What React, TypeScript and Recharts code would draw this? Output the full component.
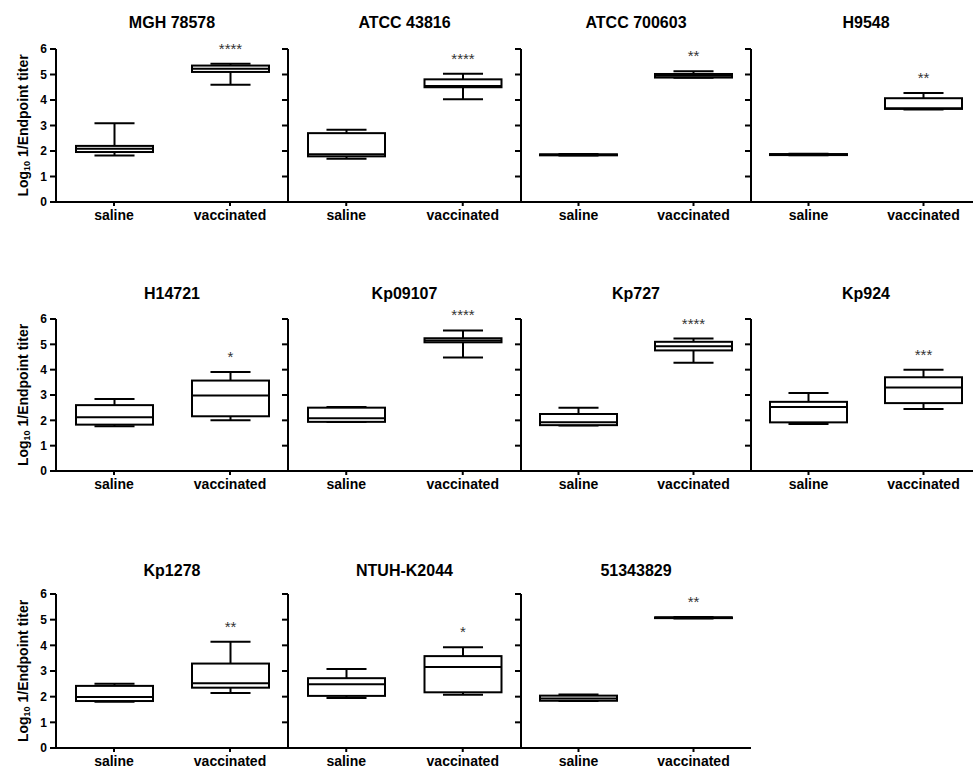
import { ComposedChart, Bar, XAxis, YAxis, LabelList } from 'recharts'

// box stats per strain: [min, q1, median, q3, max]
const strains = [
  'MGH 78578', 'ATCC 43816', 'ATCC 700603', 'H9548',
  'H14721', 'Kp09107', 'Kp727', 'Kp924',
  'Kp1278', 'NTUH-K2044', '51343829',
]
const groups = ['saline', 'vaccinated']

const salineStats = [
  [1.82, 1.96, 2.09, 2.2, 3.09],
  [1.7, 1.79, 1.87, 2.7, 2.83],
  [1.82, 1.83, 1.85, 1.87, 1.88],
  [1.83, 1.84, 1.86, 1.88, 1.89],
  [1.77, 1.83, 2.12, 2.6, 2.84],
  [1.93, 1.94, 2.08, 2.5, 2.53],
  [1.8, 1.81, 1.92, 2.25, 2.5],
  [1.86, 1.92, 2.53, 2.73, 3.08],
  [1.8, 1.83, 1.99, 2.42, 2.5],
  [1.95, 2.03, 2.48, 2.72, 3.08],
  [1.83, 1.84, 1.93, 2.04, 2.08],
]

const vaccinatedStats = [
  [4.6, 5.1, 5.23, 5.35, 5.42],
  [4.03, 4.5, 4.55, 4.81, 5.03],
  [4.87, 4.88, 4.95, 5.02, 5.13],
  [3.63, 3.65, 3.68, 4.07, 4.27],
  [2.0, 2.16, 2.98, 3.57, 3.91],
  [4.48, 5.08, 5.15, 5.24, 5.55],
  [4.27, 4.76, 4.92, 5.1, 5.23],
  [2.45, 2.68, 3.3, 3.7, 4.0],
  [2.14, 2.35, 2.52, 3.29, 4.14],
  [2.07, 2.17, 3.16, 3.58, 3.93],
  [5.05, 5.06, 5.08, 5.09, 5.1],
]

const significance = ['****', '****', '**', '**', '*', '****', '****', '***', '**', '*', '**']
const yTicks = [0, 1, 2, 3, 4, 5, 6]

const axisX = [56, 288, 521, 751]
const plotW = [232, 233, 230, 230]
const plotTop = [49, 319, 594]
const plotH = [153, 152, 154]
const titleY = [23, 294, 571]

function buildRows(i: number) {
  return groups.map((g, gi) => {
    const s = gi === 0 ? salineStats[i] : vaccinatedStats[i]
    return {
      group: g,
      range: [s[0], s[4]],
      min: s[0], q1: s[1], median: s[2], q3: s[3], max: s[4],
      sig: gi === 1 ? significance[i] : '',
    }
  })
}

function BoxShape(props: any) {
  const { x, y, width, height, payload } = props
  const top = Math.min(y, y + height)
  const h = Math.abs(height)
  const ppu = h / (payload.max - payload.min)
  const py = (v: number) => top + (payload.max - v) * ppu
  const cx = x + width / 2
  const cap = width * 0.26
  return (
    <g stroke="#000" strokeWidth={2} fill="none">
      <line x1={cx} x2={cx} y1={py(payload.max)} y2={py(payload.q3)} />
      <line x1={cx} x2={cx} y1={py(payload.q1)} y2={py(payload.min)} />
      <line x1={cx - cap} x2={cx + cap} y1={py(payload.max)} y2={py(payload.max)} />
      <line x1={cx - cap} x2={cx + cap} y1={py(payload.min)} y2={py(payload.min)} />
      <rect x={x} y={py(payload.q3)} width={width} height={Math.max(py(payload.q1) - py(payload.q3), 0.5)} fill="#fff" />
      <line x1={x} x2={x + width} y1={py(payload.median)} y2={py(payload.median)} />
    </g>
  )
}

function YLabel(props: any) {
  const vb = props.viewBox || {}
  const cx = (vb.x ?? 0) + 23
  const cy = (vb.y ?? 0) + (vb.height ?? 0) / 2
  return (
    <text
      x={cx}
      y={cy}
      transform={`rotate(-90, ${cx}, ${cy})`}
      textAnchor="middle"
      dominantBaseline="central"
      fontSize={14}
      fontWeight="bold"
      fill="#000"
    >
      Log<tspan fontSize={9} dy={4}>10</tspan>
      <tspan dy={-4}> 1/Endpoint titer</tspan>
    </text>
  )
}

function Panel({ i }: { i: number }) {
  const r = Math.floor(i / 4)
  const c = i % 4
  const yW = c === 0 ? 56 : 10
  const w = yW + plotW[c]
  const h = 20 + plotH[r] + 30
  return (
    <>
      <div
        style={{
          position: 'absolute',
          left: axisX[c],
          width: plotW[c],
          top: titleY[r] - 9,
          lineHeight: '18px',
          textAlign: 'center',
          fontSize: 16,
          fontWeight: 'bold',
          color: '#000',
        }}
      >
        {strains[i]}
      </div>
      <div style={{ position: 'absolute', left: axisX[c] - yW, top: plotTop[r] - 20 }}>
        <ComposedChart width={w} height={h} data={buildRows(i)} margin={{ top: 20, right: 0, bottom: 0, left: 0 }}>
          <XAxis
            dataKey="group"
            height={30}
            axisLine={{ stroke: '#000', strokeWidth: 2 }}
            tickLine={{ stroke: '#000', strokeWidth: 2 }}
            tickSize={4}
            tickMargin={4}
            tick={{ fill: '#000', fontSize: 14, fontWeight: 'bold' }}
          />
          <YAxis
            width={yW}
            domain={[0, 6]}
            ticks={yTicks}
            interval={0}
            axisLine={{ stroke: '#000', strokeWidth: 2 }}
            tickLine={{ stroke: '#000', strokeWidth: 2 }}
            tickSize={6}
            tickMargin={3}
            tick={{ fill: '#000', fontSize: 12, fontWeight: 'bold' }}
            tickFormatter={(v) => (c === 0 ? String(v) : '')}
            label={c === 0 ? { content: YLabel } : undefined}
          />
          <Bar dataKey="range" barSize={77} shape={BoxShape} isAnimationActive={false}>
            <LabelList dataKey="sig" position="top" offset={10} fill="#333" fontSize={15} />
          </Bar>
        </ComposedChart>
      </div>
    </>
  )
}

export default function App() {
  return (
    <div
      style={{
        position: 'absolute',
        left: 0,
        top: 0,
        width: 973,
        height: 769,
        overflow: 'hidden',
        background: '#fff',
        fontFamily: '"Liberation Sans", Arial, sans-serif',
      }}
    >
      {strains.map((_, i) => (
        <Panel key={i} i={i} />
      ))}
    </div>
  )
}
